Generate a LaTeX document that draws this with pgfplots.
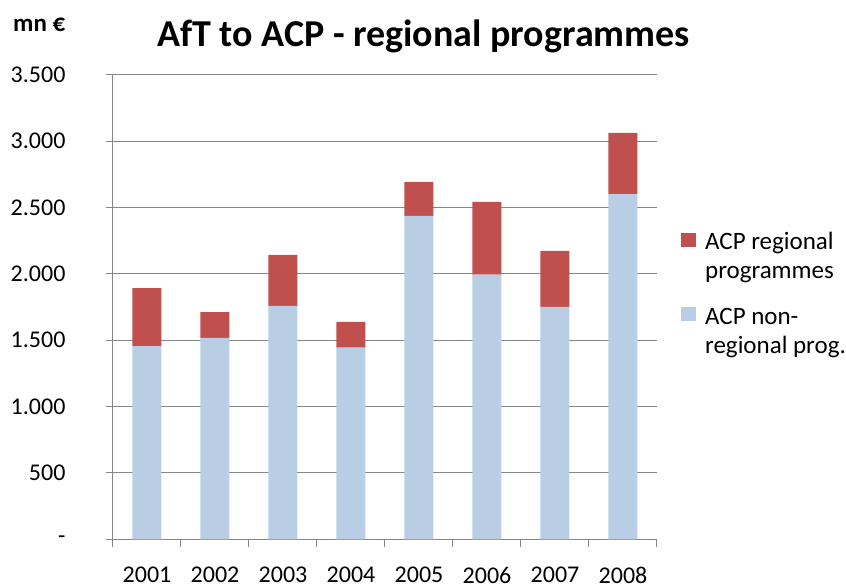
\documentclass[border=0pt]{standalone}
\usepackage{pgfplots}
\pgfplotsset{compat=1.18}
\usetikzlibrary{calc}
\usepackage{fontspec}
\setmainfont{Carlito}
\definecolor{cred}{HTML}{C0504D}
\definecolor{cblue}{HTML}{B9CDE5}
\definecolor{cgrid}{HTML}{868686}
\begin{document}
\begin{tikzpicture}
\begin{axis}[
  name=ax,
  scale only axis,
  width=544pt, height=464.6pt,
  ybar stacked,
  bar width=29pt,
  xmin=-0.5, xmax=7.5,
  ymin=0, ymax=3500,
  xtick={0,...,7},
  xticklabels={2001,2002,2003,2004,2005,2006,2007,2008},
  major x tick style={draw=none},
  minor xtick={-0.5,0.5,...,7.5},
  minor x tick style={cgrid, line width=1pt},
  minor tick length=8pt,
  ytick={0,500,...,3500},
  yticklabels={-,500,1.000,1.500,2.000,2.500,3.000,3.500},
  tick align=outside,
  major tick length=7pt,
  major y tick style={cgrid, line width=1pt},
  ymajorgrids,
  grid style={cgrid, line width=1pt},
  axis x line*=bottom,
  axis y line*=left,
  axis line style={cgrid, line width=1pt},
  x tick label style={font=\fontsize{24}{28}\selectfont, yshift=-17pt},
  y tick label style={font=\fontsize{24}{28}\selectfont, xshift=-37pt},
  legend style={at={(axis description cs:1.044,0.667)}, anchor=north west,
    draw=none, inner sep=0pt, row sep=53pt,
    font=\fontsize{25}{29}\selectfont,
    nodes={inner sep=0pt}},
  legend cell align=left,
  reverse legend,
  legend image code/.code={\fill[#1] (0pt,-6pt) rectangle (15pt,8pt); \path (24pt,0pt);},
]
\addplot[fill=cblue, draw=none] coordinates {(0,1456) (1,1517) (2,1758) (3,1443) (4,2436) (5,1994) (6,1751) (7,2601)};
\addlegendentry{\begin{tabular}[t]{@{}l@{}}ACP non-\\regional prog.\end{tabular}}
\addplot[fill=cred, draw=none] coordinates {(0,437) (1,195) (2,384) (3,194) (4,256) (5,548) (6,421) (7,460)};
\addlegendentry{\begin{tabular}[t]{@{}l@{}}ACP regional\\programmes\end{tabular}}
\end{axis}
\node[font=\fontsize{38}{42}\selectfont\bfseries, anchor=base, inner sep=0pt] at ($(ax.north west)!0.571!(ax.north east)$) [yshift=28pt] {AfT to ACP - regional programmes};
\node[font=\fontsize{25}{28}\selectfont\bfseries, anchor=base west, inner sep=0pt] at (ax.north west) [xshift=-100pt, yshift=43pt] {mn €};
\path (ax.south west) ++(-113pt,-48.7pt) rectangle ++(846pt,588pt);
\end{tikzpicture}
\end{document}
